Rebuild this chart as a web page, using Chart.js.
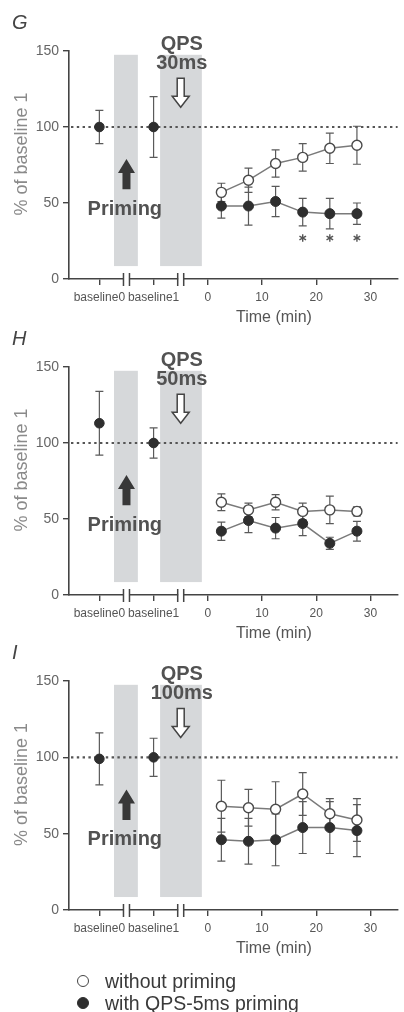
<!DOCTYPE html>
<html>
<head>
<meta charset="utf-8">
<script src="https://cdn.jsdelivr.net/npm/chart.js@4.4.0/dist/chart.umd.min.js"></script>
<style>
html, body { margin: 0; padding: 0; background: #fff; }
#wrap { position: relative; width: 404px; height: 1012px; overflow: hidden; }
#wrap canvas { position: absolute; left: 0; top: 0; }
.leg { position: absolute; left: 105px; font-family: "Liberation Sans", Arial, sans-serif; font-size: 19.5px; line-height: 20px; color: #3a3a3a; white-space: nowrap; }
.mk { position: absolute; left: 77px; width: 10px; height: 10px; border-radius: 50%; border: 1.6px solid #444; }
.mk.open { background: #fff; }
.mk.filled { background: #2e2e2e; border-color: #2e2e2e; }
</style>
</head>
<body>
<div id="wrap">
  <canvas id="chartG" width="404" height="1012"></canvas>
  <canvas id="chartH" width="404" height="1012"></canvas>
  <canvas id="chartI" width="404" height="1012"></canvas>
  <div class="mk open" style="top:975px"></div>
  <div class="leg" style="top:971px">without priming</div>
  <div class="mk filled" style="top:997px"></div>
  <div class="leg" style="top:993px">with QPS-5ms priming</div>
</div>
<script>
// x positions (min after QPS; baselines put on the same axis left of 0)
const timePoints = [2.5, 7.5, 12.5, 17.5, 22.5, 27.5];
const baselinePos = [-20, -10];
const xTickValues = [-20, -10, 0, 10, 20, 30];
const xTickLabels = ["baseline0", "baseline1", "0", "10", "20", "30"];
const breakPos = [-15, -5];
const primingBand = [-17.3, -12.9];
const qpsBand = [-8.8, -1.1];
const bandRange = [8.5, 147.5];

// G: QPS 30ms
const gBaseline = [100, 100];
const gBaselineErr = [11, 20];
const gWithout = [57, 65, 76, 80, 86, 88];
const gWithoutErr = [6, 8, 9, 9, 10, 12.5];
const gWith = [48, 48, 51, 44, 43, 43];
const gWithErr = [8, 12.5, 10, 9, 10, 7];
const gStars = [17.5, 22.5, 27.5];

// H: QPS 50ms
const hBaseline = [113, 100];
const hBaselineErr = [21, 10];
const hWithout = [61, 56, 61, 55, 56, 55];
const hWithoutErr = [5.5, 4.5, 5, 5.5, 9, 3];
const hWith = [42, 49, 44, 47, 34, 42];
const hWithErr = [6, 8, 7, 8, 4, 6.5];

// I: QPS 100ms
const iBaseline = [99, 100];
const iBaselineErr = [17, 12.5];
const iWithout = [68, 67, 66, 76, 63, 59];
const iWithoutErr = [17, 12, 18, 14, 10, 14];
const iWith = [46, 45, 46, 54, 54, 52];
const iWithErr = [14, 15, 17, 17, 17, 17];

const FONT = '"Liberation Sans", Arial, sans-serif';
const AXIS = "#444";

function pts(xs, ys) {
    return xs.map((x, i) => ({ x: x, y: ys[i] }));
}

function hollowDown(ctx, cx, ty, by) {
    const hb = by - 11;
    ctx.beginPath();
    ctx.moveTo(cx - 3.5, ty);
    ctx.lineTo(cx + 3.5, ty);
    ctx.lineTo(cx + 3.5, hb);
    ctx.lineTo(cx + 8.5, hb);
    ctx.lineTo(cx, by);
    ctx.lineTo(cx - 8.5, hb);
    ctx.lineTo(cx - 3.5, hb);
    ctx.closePath();
    ctx.fillStyle = "#fff";
    ctx.fill();
    ctx.strokeStyle = "#444";
    ctx.lineWidth = 1.5;
    ctx.stroke();
}

function filledUp(ctx, cx, ty, by) {
    const hb = ty + 14;
    ctx.beginPath();
    ctx.moveTo(cx, ty);
    ctx.lineTo(cx + 8.5, hb);
    ctx.lineTo(cx + 4, hb);
    ctx.lineTo(cx + 4, by);
    ctx.lineTo(cx - 4, by);
    ctx.lineTo(cx - 4, hb);
    ctx.lineTo(cx - 8.5, hb);
    ctx.closePath();
    ctx.fillStyle = "#383838";
    ctx.fill();
}

const decor = {
    id: "decor",
    beforeDatasetsDraw(chart, args, opts) {
        const ctx = chart.ctx;
        const xs = chart.scales.x, ys = chart.scales.y;
        const area = chart.chartArea;
        ctx.save();
        // shaded stimulation bands
        ctx.fillStyle = "#d6d8da";
        [primingBand, qpsBand].forEach(b => {
            const x1 = xs.getPixelForValue(b[0]), x2 = xs.getPixelForValue(b[1]);
            const y1 = ys.getPixelForValue(bandRange[1]), y2 = ys.getPixelForValue(bandRange[0]);
            ctx.fillRect(x1, y1, x2 - x1, y2 - y1);
        });
        // dotted 100% line
        const y100 = ys.getPixelForValue(100);
        ctx.setLineDash([2.4, 3.4]);
        ctx.strokeStyle = "#555";
        ctx.lineWidth = 2.2;
        ctx.beginPath();
        ctx.moveTo(area.left + 2, y100);
        ctx.lineTo(area.right, y100);
        ctx.stroke();
        ctx.setLineDash([]);
        // error bars
        ctx.strokeStyle = "#5a5a5a";
        ctx.lineWidth = 1.2;
        chart.data.datasets.forEach(ds => {
            ds.data.forEach((p, i) => {
                const e = ds.errors[i];
                const x = xs.getPixelForValue(p.x);
                const yt = ys.getPixelForValue(p.y + e), yb = ys.getPixelForValue(p.y - e);
                ctx.beginPath();
                ctx.moveTo(x, yt); ctx.lineTo(x, yb);
                ctx.moveTo(x - 4, yt); ctx.lineTo(x + 4, yt);
                ctx.moveTo(x - 4, yb); ctx.lineTo(x + 4, yb);
                ctx.stroke();
            });
        });
        ctx.restore();
    },
    afterDatasetsDraw(chart, args, opts) {
        const ctx = chart.ctx;
        const xs = chart.scales.x, ys = chart.scales.y;
        const area = chart.chartArea;
        ctx.save();
        // axis breaks
        breakPos.forEach(b => {
            const x = xs.getPixelForValue(b);
            ctx.fillStyle = "#fff";
            ctx.fillRect(x - 2.5, area.bottom - 2, 5, 4);
            ctx.strokeStyle = AXIS;
            ctx.lineWidth = 1.5;
            ctx.beginPath();
            ctx.moveTo(x - 3, area.bottom - 6); ctx.lineTo(x - 3, area.bottom + 7);
            ctx.moveTo(x + 3, area.bottom - 6); ctx.lineTo(x + 3, area.bottom + 7);
            ctx.stroke();
        });
        // arrows
        hollowDown(ctx, xs.getPixelForValue(-5), ys.getPixelForValue(132), ys.getPixelForValue(113));
        filledUp(ctx, xs.getPixelForValue(-15), ys.getPixelForValue(79), ys.getPixelForValue(59));
        // labels
        ctx.fillStyle = "#525252";
        ctx.font = "bold 20px " + FONT;
        ctx.textAlign = "center";
        ctx.textBaseline = "middle";
        ctx.fillText("QPS", xs.getPixelForValue(-4.8), ys.getPixelForValue(154.5));
        ctx.fillText(opts.qps, xs.getPixelForValue(-4.8), ys.getPixelForValue(141.5));
        ctx.fillText("Priming", xs.getPixelForValue(-15.3), ys.getPixelForValue(46));
        // significance marks
        ctx.strokeStyle = "#555";
        ctx.lineWidth = 1.4;
        (opts.stars || []).forEach(t => {
            const x = xs.getPixelForValue(t), y = ys.getPixelForValue(27);
            for (let k = 0; k < 3; k++) {
                const a = Math.PI / 2 + k * Math.PI / 3;
                ctx.beginPath();
                ctx.moveTo(x - 3.8 * Math.cos(a), y - 3.8 * Math.sin(a));
                ctx.lineTo(x + 3.8 * Math.cos(a), y + 3.8 * Math.sin(a));
                ctx.stroke();
            }
        });
        ctx.restore();
    },
    afterDraw(chart, args, opts) {
        const ctx = chart.ctx;
        const xs = chart.scales.x;
        const area = chart.chartArea;
        ctx.save();
        ctx.fillStyle = "#444";
        ctx.font = "italic 20px " + FONT;
        ctx.textAlign = "left";
        ctx.textBaseline = "middle";
        ctx.fillText(opts.letter, 12, area.top - 28);
        ctx.fillStyle = "#555";
        ctx.font = "16px " + FONT;
        ctx.textAlign = "center";
        ctx.fillText("Time (min)", xs.getPixelForValue(12.2), area.bottom + 39);
        ctx.translate(22, (area.top + area.bottom) / 2 - 11);
        ctx.rotate(-Math.PI / 2);
        ctx.fillStyle = "#8a8a8a";
        ctx.font = "18px " + FONT;
        ctx.fillText("% of baseline 1", 0, 0);
        ctx.restore();
    }
};

function makePanel(canvasId, letter, qps, top, bottom, base, baseErr, without, withoutErr, withP, withErr, stars) {
    return new Chart(document.getElementById(canvasId), {
        type: "scatter",
        data: {
            datasets: [
                {
                    data: pts(timePoints, withP), errors: withErr, showLine: true,
                    borderColor: "#7a7a7a", borderWidth: 1.5,
                    pointRadius: 5, pointBackgroundColor: "#2e2e2e", pointBorderColor: "#2e2e2e", pointBorderWidth: 1
                },
                {
                    data: pts(timePoints, without), errors: withoutErr, showLine: true,
                    borderColor: "#7a7a7a", borderWidth: 1.5,
                    pointRadius: 5, pointBackgroundColor: "#fff", pointBorderColor: "#4a4a4a", pointBorderWidth: 1.4
                },
                {
                    data: pts(baselinePos, base), errors: baseErr, showLine: false,
                    pointRadius: 4.8, pointBackgroundColor: "#2e2e2e", pointBorderColor: "#2e2e2e", pointBorderWidth: 1
                }
            ]
        },
        options: {
            responsive: false,
            animation: false,
            events: [],
            clip: false,
            layout: { padding: { left: 0, right: 0, top: top, bottom: 1012 - bottom - 30 } },
            plugins: {
                legend: { display: false },
                tooltip: { enabled: false },
                decor: { letter: letter, qps: qps, stars: stars }
            },
            scales: {
                x: {
                    type: "linear",
                    min: -25.6,
                    max: 35,
                    afterBuildTicks: s => { s.ticks = xTickValues.map(v => ({ value: v })); },
                    afterFit: s => { s.height = 30; },
                    ticks: {
                        autoSkip: false, maxRotation: 0, padding: 5,
                        color: "#555", font: { family: FONT, size: 12 },
                        callback: v => { const i = xTickValues.indexOf(v); return i < 0 ? "" : xTickLabels[i]; }
                    },
                    grid: { drawOnChartArea: false, drawTicks: true, tickLength: 6, color: AXIS, lineWidth: 1.4 },
                    border: { display: true, color: AXIS, width: 1.6 }
                },
                y: {
                    min: 0,
                    max: 150,
                    afterFit: s => { s.width = 69; },
                    ticks: { stepSize: 50, padding: 4, color: "#666", font: { family: FONT, size: 14 } },
                    grid: { drawOnChartArea: false, drawTicks: true, tickLength: 6, color: AXIS, lineWidth: 1.4 },
                    border: { display: true, color: AXIS, width: 1.6 }
                }
            }
        },
        plugins: [decor]
    });
}

makePanel("chartG", "G", "30ms", 51, 279, gBaseline, gBaselineErr, gWithout, gWithoutErr, gWith, gWithErr, gStars);
makePanel("chartH", "H", "50ms", 367, 595, hBaseline, hBaselineErr, hWithout, hWithoutErr, hWith, hWithErr, []);
makePanel("chartI", "I", "100ms", 681, 910, iBaseline, iBaselineErr, iWithout, iWithoutErr, iWith, iWithErr, []);
</script>
</body>
</html>
